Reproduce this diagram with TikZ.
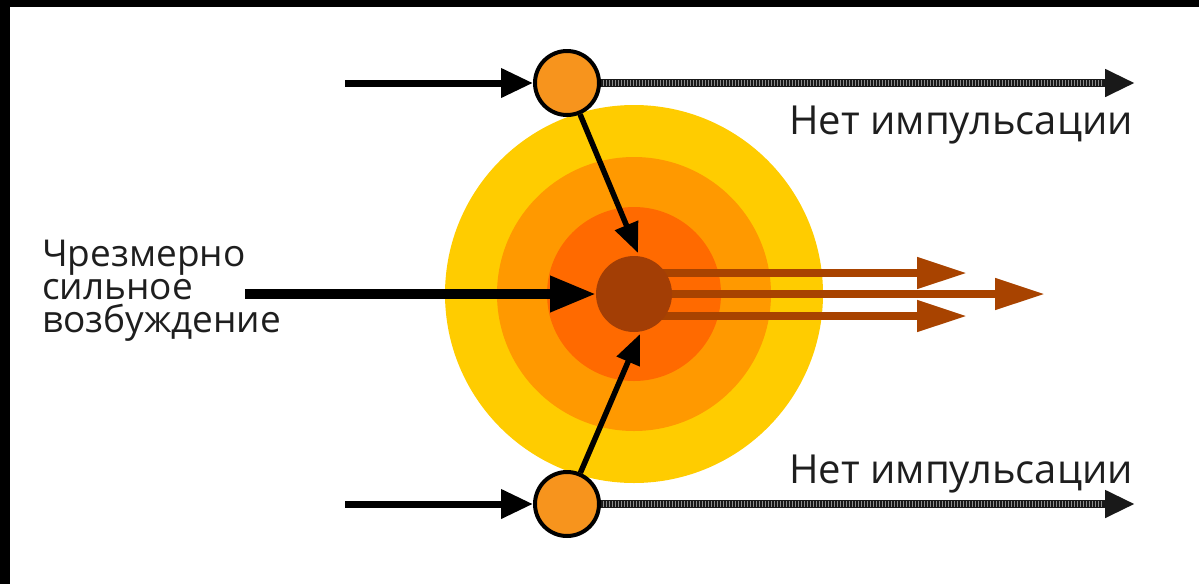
\documentclass[tikz,border=0pt]{standalone}
\usepackage{fontspec}
\setmainfont{Open Sans}
\usetikzlibrary{arrows.meta}
\definecolor{cyel}{HTML}{FFCC00}
\definecolor{cmid}{HTML}{FF9900}
\definecolor{cinn}{HTML}{FF6A00}
\definecolor{ccore}{HTML}{A33E05}
\definecolor{cbrn}{HTML}{A84300}
\definecolor{csmall}{HTML}{F7941D}
\definecolor{ctext}{HTML}{1E1E1E}
\tikzset{
  ring/.style={circle, inner sep=0pt, outer sep=0pt, minimum size=#1},
  smallc/.style={circle, inner sep=0pt, minimum size=64pt, fill=csmall, draw=black, line width=4pt},
  blkin/.style={black, line width=7pt, -{Triangle[length=32pt,width=28pt]}},
  blkslant/.style={black, line width=5.5pt, -{Triangle[length=30pt,width=24pt]}},
  blkmain/.style={black, line width=10pt, -{Triangle[length=46pt,width=34pt]}},
  brn/.style={cbrn, line width=8pt, -{Triangle[length=50pt,width=30pt]}},
  hatchbase/.style={black!90, line width=8pt, -{Triangle[length=30pt,width=26pt]}},
  hatchstripe/.style={white!55!black, line width=6pt, dash pattern=on 0.7pt off 2.3pt, shorten >=32pt, shorten <=2pt},
  rlbl/.style={inner sep=0pt, text=ctext, font=\fontsize{40}{40}\selectfont},
  llbl/.style={inner sep=0pt, text=ctext, font=\fontsize{37}{33}\selectfont},
}
\begin{document}
\begin{tikzpicture}[x=1pt,y=-1pt]
\useasboundingbox (0,0) rectangle (1199,584);
\fill[black] (0,0) rectangle (1199,7);
\fill[black] (0,0) rectangle (10,584);
% concentric rings
\node[ring=378pt, fill=cyel] (outer) at (634,294) {};
\node[ring=274pt, fill=cmid] (middle) at (634,294) {};
\node[ring=174pt, fill=cinn] (inner) at (634,294) {};
% coordinates
\coordinate (tin) at (345,83);
\coordinate (bin) at (345,504);
\coordinate (tout) at (1135,83);
\coordinate (bout) at (1135,504);
\coordinate (hin) at (245,294);
\coordinate (tipA) at (638,253);
\coordinate (tipB) at (640,334);
\coordinate (e1) at (967,273);
\coordinate (e2) at (1045,294);
\coordinate (e3) at (967,316);
% small neurons
\node[smallc] (t1) at (567,83) {};
\node[smallc] (b1) at (567,504) {};
% brown output arrows
\draw[brn] (634,273) -- (e1);
\draw[brn] (634,294) -- (e2);
\draw[brn] (634,316) -- (e3);
% core
\node[ring=76pt, fill=ccore] (core) at (634,294) {};
% inputs
\draw[blkin] (tin) -- (t1);
\draw[blkin] (bin) -- (b1);
\draw[blkslant] (t1) -- (tipA);
\draw[blkslant] (b1) -- (tipB);
\draw[blkmain] (hin) -- (core);
% no-impulse lines
\draw[hatchbase] (t1) -- (tout);
\draw[hatchstripe] (t1) -- (tout);
\draw[hatchbase] (b1) -- (bout);
\draw[hatchstripe] (b1) -- (bout);
% labels
\node[rlbl, anchor=base east] (n1) at (1133,134) {Нет импульсации};
\node[rlbl, anchor=base east] (n2) at (1133,483) {Нет импульсации};
\node[llbl, anchor=north west, align=left] (left) at (42,240) {Чрезмерно\\сильное\\возбуждение};
\end{tikzpicture}
\end{document}
